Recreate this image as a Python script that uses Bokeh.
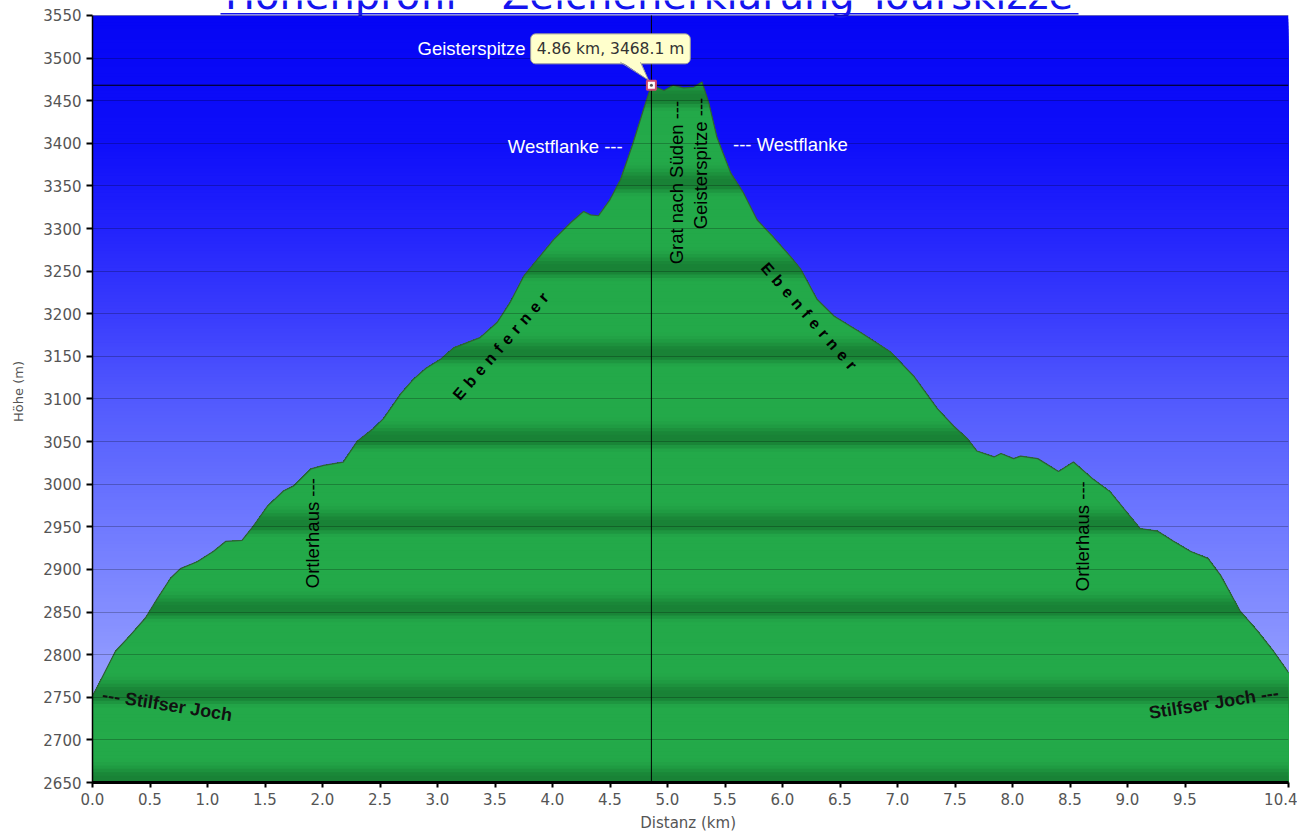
import numpy as np
from bokeh.plotting import figure
from bokeh.models import FixedTicker, Span, Label, Arrow, PolyAnnotation, NumeralTickFormatter
from bokeh.core.properties import value
from bokeh.embed import file_html
from bokeh.resources import INLINE

# ---------------- data ----------------
title_text = "Höhenprofil – Zeichenerklärung Tourskizze"

dist_km = [0.0, 0.03, 0.2, 0.33, 0.46, 0.565, 0.68, 0.765, 0.91, 1.05, 1.16, 1.30, 1.40, 1.52,
           1.66, 1.75, 1.90, 2.01, 2.18, 2.30, 2.44, 2.53, 2.68, 2.79, 2.90, 3.03, 3.14, 3.37,
           3.52, 3.63, 3.75, 3.87, 4.01, 4.16, 4.27, 4.33, 4.40, 4.50, 4.59, 4.70, 4.79, 4.86,
           4.97, 5.05, 5.14, 5.23, 5.30, 5.36, 5.43, 5.55, 5.66, 5.78, 5.92, 6.07, 6.16, 6.30,
           6.45, 6.68, 6.94, 7.14, 7.35, 7.49, 7.61, 7.69, 7.84, 7.90, 8.01, 8.07, 8.22, 8.40,
           8.53, 8.70, 8.85, 8.97, 9.11, 9.26, 9.40, 9.55, 9.70, 9.81, 9.98, 10.13, 10.27,
           10.39, 10.4]
elev_m = [2752, 2759, 2804, 2823, 2843, 2866, 2890, 2901, 2909, 2921, 2933, 2934, 2951, 2974,
          2992, 2998, 3018, 3022, 3026, 3050, 3065, 3077, 3106, 3123, 3136, 3147, 3160, 3172,
          3190, 3213, 3244, 3264, 3287, 3307, 3320, 3316, 3315, 3334, 3357, 3400, 3439, 3468.1,
          3462, 3468, 3465, 3466, 3472, 3447, 3407, 3365, 3342, 3310, 3290, 3267, 3252, 3217,
          3197, 3178, 3155, 3127, 3088, 3068, 3053, 3039, 3032, 3036, 3030, 3033, 3030, 3015,
          3026, 3006, 2991, 2971, 2948, 2945, 2933, 2921, 2913, 2893, 2851, 2828, 2804,
          2781, 2779]

peak_km = 4.86
peak_m = 3468.1

x_ticks = [0.0, 0.5, 1.0, 1.5, 2.0, 2.5, 3.0, 3.5, 4.0, 4.5, 5.0, 5.5, 6.0, 6.5, 7.0, 7.5,
           8.0, 8.5, 9.0, 9.5, 10.4]
y_ticks = list(range(2650, 3551, 50))

# annotation texts
lbl_texts = ["Geisterspitze", "Westflanke ---", "--- Westflanke", "Grat nach Süden ---",
             "Geisterspitze ---", "Ortlerhaus ---", "Ortlerhaus ---"]
lbl_x = [3.765, 4.61, 5.57, 5.08, 5.287, 1.913, 8.61]
lbl_y = [3511.4, 3395.7, 3399.0, 3258.0, 3299.0, 2878.0, 2874.4]
lbl_angle_deg = [0, 0, 0, 90, 90, 90, 90]
lbl_align = ["right", "right", "left", "left", "left", "left", "left"]
lbl_color = ["white", "white", "white", "black", "black", "black", "black"]

spaced_texts = ["Ebenferner", "Ebenferner"]
spaced_x = [3.55, 6.23]
spaced_y = [3162.0, 3197.0]
spaced_angle_deg = [49, -49]

joch_texts = ["--- Stilfser Joch", "Stilfser Joch ---"]
joch_x = [0.65, 9.75]
joch_y = [2741.0, 2743.5]
joch_angle_deg = [-9, 9]

# ---------------- figure ----------------
X0, X1 = 0.0, 10.4
Y0, Y1 = 2650, 3550
Y_TOP = Y1 + 15 * 900 / 770.0   # white strip above the chart area (holds the title)

p = figure(width=1297, height=834, x_range=(X0, X1), y_range=(Y0, Y_TOP),
           output_backend="svg", toolbar_location=None,
           min_border_left=92, min_border_right=9, min_border_top=0, min_border_bottom=49)
p.outline_line_color = None
p.background_fill_color = "white"
p.border_fill_color = "white"

# sky gradient (cumulative stripes, top first)
sky_m = [3550, 3400, 3300, 3200, 3100, 3000, 2900, 2800, 2700, 2650]
sky_r = [5, 15, 35, 58, 82, 102, 122, 142, 162, 172]
sky_g = [5, 15, 35, 60, 90, 112, 132, 152, 170, 180]
sky_b = [245, 250, 252, 253, 254, 255, 255, 255, 255, 255]


def sky_color(m):
    r = np.interp(m, sky_m[::-1], sky_r[::-1])
    g = np.interp(m, sky_m[::-1], sky_g[::-1])
    b = np.interp(m, sky_m[::-1], sky_b[::-1])
    return "#%02x%02x%02x" % (int(r), int(g), int(b))


step = 4
tops = np.arange(Y1, Y0, -step)
p.quad(left=X0, right=X1, bottom=Y0, top=tops,
       fill_color=[sky_color(t - step / 2) for t in tops], line_color=None)

# green banded fill
LIGHT = np.array([36, 170, 74])
DARK = np.array([25, 130, 54])


def green_color(m):
    s = ((m - Y0 + 50) % 100) - 50  # signed offset from nearest dark line
    if s >= 0:
        w = 1.0 if s <= 5 else np.exp(-((s - 5) / 13.0) ** 2)
    else:
        w = np.exp(-(s / 7.0) ** 2)
    c = LIGHT + (DARK - LIGHT) * w
    return "#%02x%02x%02x" % tuple(int(v) for v in c)


def clip_top(xs, ys, h):
    ox, oy = [], []
    for i in range(len(xs)):
        if i > 0:
            ya, yb = ys[i - 1], ys[i]
            if (ya - h) * (yb - h) < 0:
                t = (h - ya) / (yb - ya)
                ox.append(xs[i - 1] + t * (xs[i] - xs[i - 1]))
                oy.append(h)
        ox.append(xs[i])
        oy.append(min(ys[i], h))
    return ox, oy


top_elev = max(elev_m)
for h in np.arange(Y0 + step * np.ceil((top_elev - Y0) / step), Y0, -step):
    cx, cy = clip_top(dist_km, elev_m, h)
    p.varea(x=cx, y1=Y0, y2=cy, fill_color=green_color(h - step / 2))

p.line(dist_km, elev_m, line_color="#2f5f36", line_width=1.2)

# crosshair (vertical part limited to the chart area)
p.segment(x0=[peak_km], y0=[Y0], x1=[peak_km], y1=[Y1], line_color="black", line_width=1)
p.add_layout(Span(location=peak_m, dimension="width", line_color="black", line_width=1))

# axes / grid
p.xgrid.visible = False
p.ygrid.ticker = FixedTicker(ticks=y_ticks)
p.ygrid.grid_line_color = "black"
p.ygrid.grid_line_alpha = 0.24
p.ygrid.grid_line_width = 1
p.ygrid.level = "glyph"

p.xaxis.ticker = FixedTicker(ticks=x_ticks)
p.xaxis.formatter = NumeralTickFormatter(format="0.0")
p.yaxis.ticker = FixedTicker(ticks=y_ticks)
p.yaxis.bounds = (Y0, Y1)

for ax in (p.xaxis[0], p.yaxis[0]):
    ax.major_label_text_font = "DejaVu Sans"
    ax.major_label_text_font_size = "15px"
    ax.major_label_text_color = "#555555"
    ax.axis_label_text_font = "DejaVu Sans"
    ax.axis_label_text_font_style = "normal"
    ax.axis_label_text_color = "#555555"
    ax.minor_tick_line_color = None
    ax.major_tick_in = 0
    ax.major_tick_line_color = "black"
    ax.major_tick_line_width = 2
    ax.axis_line_color = "black"

p.xaxis.axis_label = "Distanz  (km)"
p.xaxis.axis_label_text_font_size = "15px"
p.xaxis.axis_label_standoff = 6
p.xaxis.axis_line_width = 3
p.xaxis.major_tick_out = 5
p.xaxis.major_label_standoff = 5

p.yaxis.axis_label = "Höhe (m)"
p.yaxis.axis_label_text_font_size = "13px"
p.yaxis.axis_label_standoff = 14
p.yaxis.axis_line_width = 1.5
p.yaxis.major_tick_out = 6
p.yaxis.major_label_standoff = 5

# text annotations
for t, x, y, a, al, c in zip(lbl_texts, lbl_x, lbl_y, lbl_angle_deg, lbl_align, lbl_color):
    p.add_layout(Label(x=x, y=y, text=t, angle=np.radians(a), text_align=al,
                       text_baseline="middle", text_color=c, text_font="Liberation Sans",
                       text_font_size="18.5px"))

for t, x, y, a in zip(spaced_texts, spaced_x, spaced_y, spaced_angle_deg):
    p.add_layout(Label(x=x, y=y, text=" \u200a".join(list(t)), angle=np.radians(a),
                       text_align="center", text_baseline="middle", text_color="black",
                       text_font="Liberation Sans", text_font_style="bold",
                       text_font_size="16px"))

for t, x, y, a in zip(joch_texts, joch_x, joch_y, joch_angle_deg):
    p.add_layout(Label(x=x, y=y, text=t, angle=np.radians(a), text_align="center",
                       text_baseline="middle", text_color="#111111",
                       text_font="Liberation Sans", text_font_style="bold",
                       text_font_size="18px"))

# tooltip
box_bottom = peak_m + 27
tip = (peak_km - 0.025, peak_m + 6)
p.add_layout(Label(x=peak_km - 1.05, y=peak_m + 42.7, text="%.2f km, %.1f m" % (peak_km, peak_m),
                   text_align="left", text_baseline="middle", text_font="DejaVu Sans",
                   text_font_size="15.5px", text_color="#333333",
                   background_fill_color="#ffffcc", background_fill_alpha=1.0,
                   border_line_color="#999999", border_line_width=1,
                   padding=6, border_radius=5))
p.add_layout(PolyAnnotation(xs=[peak_km - 0.27, peak_km - 0.095, tip[0]],
                            ys=[box_bottom + 1.5, box_bottom + 1.5, tip[1]],
                            xs_units="data", ys_units="data",
                            fill_color="#ffffcc", fill_alpha=1.0, line_alpha=0))
p.add_layout(Arrow(end=None, x_start=peak_km - 0.27, y_start=box_bottom, x_end=tip[0],
                   y_end=tip[1], line_color="#999999", line_width=1))
p.add_layout(Arrow(end=None, x_start=peak_km - 0.095, y_start=box_bottom, x_end=tip[0],
                   y_end=tip[1], line_color="#999999", line_width=1))

p.scatter([peak_km], [peak_m], marker="square", size=9, fill_color="white",
          line_color="#d04a70", line_width=2, level="overlay")
p.scatter([peak_km], [peak_m], marker="circle", size=3, fill_color="#555555",
          line_color=None, level="overlay")

# title link, cut at the top edge like the reference
p.text(x=[4.839], y=[Y1 + 23.9], text=[title_text], text_align="center",
       text_baseline="alphabetic", text_font=value("DejaVu Sans"), text_font_size="40px",
       text_color="#1414ee")
p.segment(x0=[1.113], y0=[Y1 + 1.9], x1=[8.574], y1=[Y1 + 1.9], line_color="#1414ee",
          line_width=1.5)

open("out.html", "w").write(file_html(p, INLINE))
